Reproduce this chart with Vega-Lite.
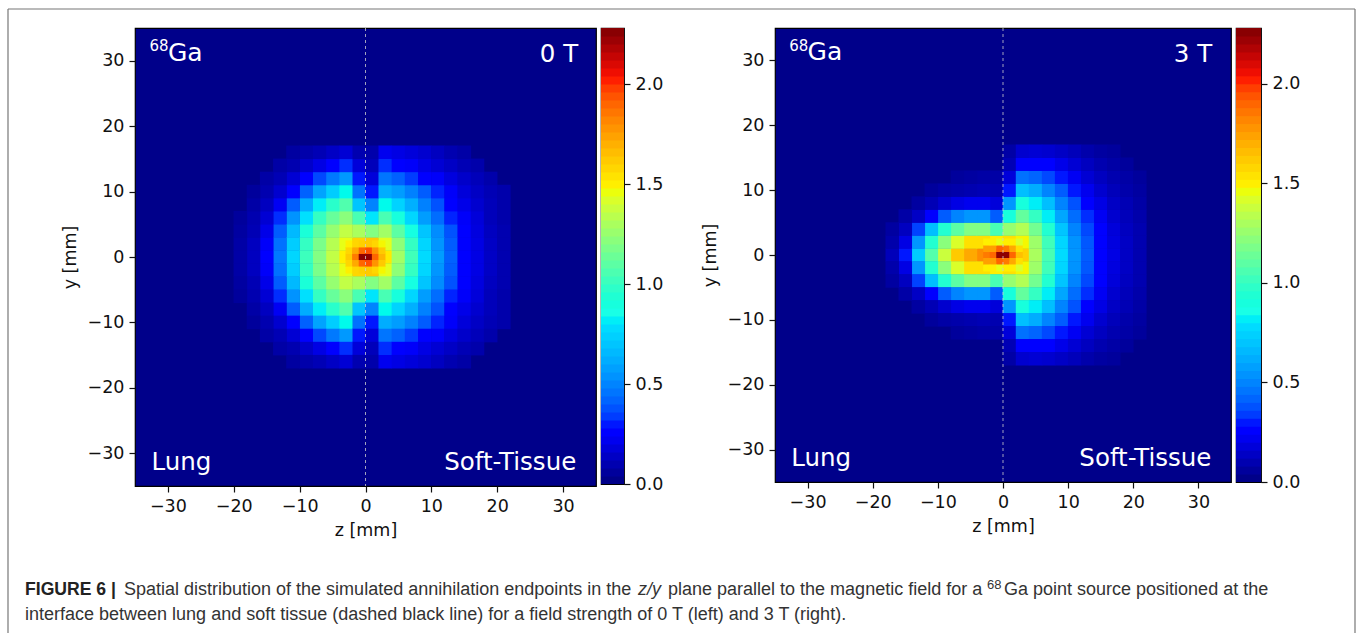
{"$schema":"https://vega.github.io/schema/vega-lite/v6.json","background":"white","padding":{"left":7,"top":8,"right":1,"bottom":0},"bounds":"flush","align":"none","columns":5,"spacing":{"row":94,"column":5},
"config":{"view":{"stroke":"black","strokeWidth":1.2,"fill":"#00008a"},"axis":{"labelFont":"DejaVu Sans","titleFont":"DejaVu Sans","labelFontSize":17.5,"titleFontSize":17.5,"labelColor":"#111","titleColor":"#111","titleFontWeight":"normal","tickColor":"#111","tickSize":6,"tickWidth":1.2,"grid":false,"domain":false,"labelPadding":5}},
"datasets":{
"bar":[{"v":0.02},{"v":0.06},{"v":0.1},{"v":0.14},{"v":0.18},{"v":0.22},{"v":0.26},{"v":0.3},{"v":0.34},{"v":0.38},{"v":0.42},{"v":0.46},{"v":0.5},{"v":0.54},{"v":0.58},{"v":0.62},{"v":0.66},{"v":0.7},{"v":0.74},{"v":0.78},{"v":0.82},{"v":0.86},{"v":0.9},{"v":0.94},{"v":0.98},{"v":1.02},{"v":1.06},{"v":1.1},{"v":1.14},{"v":1.18},{"v":1.22},{"v":1.26},{"v":1.3},{"v":1.34},{"v":1.38},{"v":1.42},{"v":1.46},{"v":1.5},{"v":1.54},{"v":1.58},{"v":1.62},{"v":1.66},{"v":1.7},{"v":1.74},{"v":1.78},{"v":1.82},{"v":1.86},{"v":1.9},{"v":1.94},{"v":1.98},{"v":2.02},{"v":2.06},{"v":2.1},{"v":2.14},{"v":2.18},{"v":2.22},{"v":2.26}],
"a":[
{"z":-1,"y":0,"v":2.0},{"z":-3,"y":0,"v":1.5},{"z":-5,"y":0,"v":1.36},{"z":-7,"y":0,"v":1.2},{"z":-9,"y":0,"v":1.02},{"z":-11,"y":0,"v":0.76},{"z":-13,"y":0,"v":0.47},{"z":-15,"y":0,"v":0.25},{"z":-17,"y":0,"v":0.13},{"z":-19,"y":0,"v":0.08},
{"z":-1,"y":2,"v":1.58},{"z":-3,"y":2,"v":1.45},{"z":-5,"y":2,"v":1.33},{"z":-7,"y":2,"v":1.18},{"z":-9,"y":2,"v":1.0},{"z":-11,"y":2,"v":0.73},{"z":-13,"y":2,"v":0.45},{"z":-15,"y":2,"v":0.24},{"z":-17,"y":2,"v":0.13},{"z":-19,"y":2,"v":0.08},
{"z":-1,"y":-2,"v":1.58},{"z":-3,"y":-2,"v":1.45},{"z":-5,"y":-2,"v":1.33},{"z":-7,"y":-2,"v":1.18},{"z":-9,"y":-2,"v":1.0},{"z":-11,"y":-2,"v":0.73},{"z":-13,"y":-2,"v":0.45},{"z":-15,"y":-2,"v":0.24},{"z":-17,"y":-2,"v":0.13},{"z":-19,"y":-2,"v":0.08},
{"z":-1,"y":4,"v":1.3},{"z":-3,"y":4,"v":1.36},{"z":-5,"y":4,"v":1.25},{"z":-7,"y":4,"v":1.1},{"z":-9,"y":4,"v":0.92},{"z":-11,"y":4,"v":0.66},{"z":-13,"y":4,"v":0.4},{"z":-15,"y":4,"v":0.21},{"z":-17,"y":4,"v":0.11},{"z":-19,"y":4,"v":0.07},
{"z":-1,"y":-4,"v":1.3},{"z":-3,"y":-4,"v":1.36},{"z":-5,"y":-4,"v":1.25},{"z":-7,"y":-4,"v":1.1},{"z":-9,"y":-4,"v":0.92},{"z":-11,"y":-4,"v":0.66},{"z":-13,"y":-4,"v":0.4},{"z":-15,"y":-4,"v":0.21},{"z":-17,"y":-4,"v":0.11},{"z":-19,"y":-4,"v":0.07},
{"z":-1,"y":6,"v":1.05},{"z":-3,"y":6,"v":1.22},{"z":-5,"y":6,"v":1.13},{"z":-7,"y":6,"v":1.0},{"z":-9,"y":6,"v":0.79},{"z":-11,"y":6,"v":0.54},{"z":-13,"y":6,"v":0.32},{"z":-15,"y":6,"v":0.17},{"z":-17,"y":6,"v":0.1},{"z":-19,"y":6,"v":0.06},
{"z":-1,"y":-6,"v":1.05},{"z":-3,"y":-6,"v":1.22},{"z":-5,"y":-6,"v":1.13},{"z":-7,"y":-6,"v":1.0},{"z":-9,"y":-6,"v":0.79},{"z":-11,"y":-6,"v":0.54},{"z":-13,"y":-6,"v":0.32},{"z":-15,"y":-6,"v":0.17},{"z":-17,"y":-6,"v":0.1},{"z":-19,"y":-6,"v":0.06},
{"z":-1,"y":8,"v":0.7},{"z":-3,"y":8,"v":1.07},{"z":-5,"y":8,"v":0.97},{"z":-7,"y":8,"v":0.82},{"z":-9,"y":8,"v":0.62},{"z":-11,"y":8,"v":0.4},{"z":-13,"y":8,"v":0.23},{"z":-15,"y":8,"v":0.13},{"z":-17,"y":8,"v":0.08},
{"z":-1,"y":-8,"v":0.7},{"z":-3,"y":-8,"v":1.07},{"z":-5,"y":-8,"v":0.97},{"z":-7,"y":-8,"v":0.82},{"z":-9,"y":-8,"v":0.62},{"z":-11,"y":-8,"v":0.4},{"z":-13,"y":-8,"v":0.23},{"z":-15,"y":-8,"v":0.13},{"z":-17,"y":-8,"v":0.08},
{"z":-1,"y":10,"v":0.45},{"z":-3,"y":10,"v":0.85},{"z":-5,"y":10,"v":0.73},{"z":-7,"y":10,"v":0.59},{"z":-9,"y":10,"v":0.41},{"z":-11,"y":10,"v":0.26},{"z":-13,"y":10,"v":0.16},{"z":-15,"y":10,"v":0.1},{"z":-17,"y":10,"v":0.06},
{"z":-1,"y":-10,"v":0.45},{"z":-3,"y":-10,"v":0.85},{"z":-5,"y":-10,"v":0.73},{"z":-7,"y":-10,"v":0.59},{"z":-9,"y":-10,"v":0.41},{"z":-11,"y":-10,"v":0.26},{"z":-13,"y":-10,"v":0.16},{"z":-15,"y":-10,"v":0.1},{"z":-17,"y":-10,"v":0.06},
{"z":-1,"y":12,"v":0.3},{"z":-3,"y":12,"v":0.56},{"z":-5,"y":12,"v":0.47},{"z":-7,"y":12,"v":0.36},{"z":-9,"y":12,"v":0.25},{"z":-11,"y":12,"v":0.17},{"z":-13,"y":12,"v":0.11},{"z":-15,"y":12,"v":0.08},
{"z":-1,"y":-12,"v":0.3},{"z":-3,"y":-12,"v":0.56},{"z":-5,"y":-12,"v":0.47},{"z":-7,"y":-12,"v":0.36},{"z":-9,"y":-12,"v":0.25},{"z":-11,"y":-12,"v":0.17},{"z":-13,"y":-12,"v":0.11},{"z":-15,"y":-12,"v":0.08},
{"z":-1,"y":14,"v":0.18},{"z":-3,"y":14,"v":0.32},{"z":-5,"y":14,"v":0.26},{"z":-7,"y":14,"v":0.2},{"z":-9,"y":14,"v":0.15},{"z":-11,"y":14,"v":0.1},{"z":-13,"y":14,"v":0.08},
{"z":-1,"y":-14,"v":0.18},{"z":-3,"y":-14,"v":0.32},{"z":-5,"y":-14,"v":0.26},{"z":-7,"y":-14,"v":0.2},{"z":-9,"y":-14,"v":0.15},{"z":-11,"y":-14,"v":0.1},{"z":-13,"y":-14,"v":0.08},
{"z":-1,"y":16,"v":0.1},{"z":-3,"y":16,"v":0.17},{"z":-5,"y":16,"v":0.14},{"z":-7,"y":16,"v":0.11},{"z":-9,"y":16,"v":0.09},{"z":-11,"y":16,"v":0.07},
{"z":-1,"y":-16,"v":0.1},{"z":-3,"y":-16,"v":0.17},{"z":-5,"y":-16,"v":0.14},{"z":-7,"y":-16,"v":0.11},{"z":-9,"y":-16,"v":0.09},{"z":-11,"y":-16,"v":0.07},
{"z":1,"y":0,"v":2.0},{"z":3,"y":0,"v":1.52},{"z":5,"y":0,"v":1.28},{"z":7,"y":0,"v":1.03},{"z":9,"y":0,"v":0.78},{"z":11,"y":0,"v":0.57},{"z":13,"y":0,"v":0.41},{"z":15,"y":0,"v":0.28},{"z":17,"y":0,"v":0.2},{"z":19,"y":0,"v":0.14},{"z":21,"y":0,"v":0.1},
{"z":1,"y":2,"v":1.62},{"z":3,"y":2,"v":1.44},{"z":5,"y":2,"v":1.23},{"z":7,"y":2,"v":1.0},{"z":9,"y":2,"v":0.76},{"z":11,"y":2,"v":0.55},{"z":13,"y":2,"v":0.4},{"z":15,"y":2,"v":0.28},{"z":17,"y":2,"v":0.2},{"z":19,"y":2,"v":0.14},{"z":21,"y":2,"v":0.1},
{"z":1,"y":-2,"v":1.62},{"z":3,"y":-2,"v":1.44},{"z":5,"y":-2,"v":1.23},{"z":7,"y":-2,"v":1.0},{"z":9,"y":-2,"v":0.76},{"z":11,"y":-2,"v":0.55},{"z":13,"y":-2,"v":0.4},{"z":15,"y":-2,"v":0.28},{"z":17,"y":-2,"v":0.2},{"z":19,"y":-2,"v":0.14},{"z":21,"y":-2,"v":0.1},
{"z":1,"y":4,"v":1.2},{"z":3,"y":4,"v":1.28},{"z":5,"y":4,"v":1.1},{"z":7,"y":4,"v":0.88},{"z":9,"y":4,"v":0.7},{"z":11,"y":4,"v":0.52},{"z":13,"y":4,"v":0.38},{"z":15,"y":4,"v":0.26},{"z":17,"y":4,"v":0.19},{"z":19,"y":4,"v":0.13},{"z":21,"y":4,"v":0.1},
{"z":1,"y":-4,"v":1.2},{"z":3,"y":-4,"v":1.28},{"z":5,"y":-4,"v":1.1},{"z":7,"y":-4,"v":0.88},{"z":9,"y":-4,"v":0.7},{"z":11,"y":-4,"v":0.52},{"z":13,"y":-4,"v":0.38},{"z":15,"y":-4,"v":0.26},{"z":17,"y":-4,"v":0.19},{"z":19,"y":-4,"v":0.13},{"z":21,"y":-4,"v":0.1},
{"z":1,"y":6,"v":0.8},{"z":3,"y":6,"v":1.05},{"z":5,"y":6,"v":0.9},{"z":7,"y":6,"v":0.76},{"z":9,"y":6,"v":0.57},{"z":11,"y":6,"v":0.44},{"z":13,"y":6,"v":0.31},{"z":15,"y":6,"v":0.24},{"z":17,"y":6,"v":0.18},{"z":19,"y":6,"v":0.12},{"z":21,"y":6,"v":0.09},
{"z":1,"y":-6,"v":0.8},{"z":3,"y":-6,"v":1.05},{"z":5,"y":-6,"v":0.9},{"z":7,"y":-6,"v":0.76},{"z":9,"y":-6,"v":0.57},{"z":11,"y":-6,"v":0.44},{"z":13,"y":-6,"v":0.31},{"z":15,"y":-6,"v":0.24},{"z":17,"y":-6,"v":0.18},{"z":19,"y":-6,"v":0.12},{"z":21,"y":-6,"v":0.09},
{"z":1,"y":8,"v":0.5},{"z":3,"y":8,"v":0.85},{"z":5,"y":8,"v":0.75},{"z":7,"y":8,"v":0.63},{"z":9,"y":8,"v":0.49},{"z":11,"y":8,"v":0.38},{"z":13,"y":8,"v":0.29},{"z":15,"y":8,"v":0.21},{"z":17,"y":8,"v":0.16},{"z":19,"y":8,"v":0.12},{"z":21,"y":8,"v":0.09},
{"z":1,"y":-8,"v":0.5},{"z":3,"y":-8,"v":0.85},{"z":5,"y":-8,"v":0.75},{"z":7,"y":-8,"v":0.63},{"z":9,"y":-8,"v":0.49},{"z":11,"y":-8,"v":0.38},{"z":13,"y":-8,"v":0.29},{"z":15,"y":-8,"v":0.21},{"z":17,"y":-8,"v":0.16},{"z":19,"y":-8,"v":0.12},{"z":21,"y":-8,"v":0.09},
{"z":1,"y":10,"v":0.3},{"z":3,"y":10,"v":0.62},{"z":5,"y":10,"v":0.57},{"z":7,"y":10,"v":0.49},{"z":9,"y":10,"v":0.4},{"z":11,"y":10,"v":0.31},{"z":13,"y":10,"v":0.24},{"z":15,"y":10,"v":0.18},{"z":17,"y":10,"v":0.14},{"z":19,"y":10,"v":0.11},{"z":21,"y":10,"v":0.09},
{"z":1,"y":-10,"v":0.3},{"z":3,"y":-10,"v":0.62},{"z":5,"y":-10,"v":0.57},{"z":7,"y":-10,"v":0.49},{"z":9,"y":-10,"v":0.4},{"z":11,"y":-10,"v":0.31},{"z":13,"y":-10,"v":0.24},{"z":15,"y":-10,"v":0.18},{"z":17,"y":-10,"v":0.14},{"z":19,"y":-10,"v":0.11},{"z":21,"y":-10,"v":0.09},
{"z":1,"y":12,"v":0.18},{"z":3,"y":12,"v":0.46},{"z":5,"y":12,"v":0.41},{"z":7,"y":12,"v":0.34},{"z":9,"y":12,"v":0.28},{"z":11,"y":12,"v":0.24},{"z":13,"y":12,"v":0.19},{"z":15,"y":12,"v":0.15},{"z":17,"y":12,"v":0.12},{"z":19,"y":12,"v":0.09},
{"z":1,"y":-12,"v":0.18},{"z":3,"y":-12,"v":0.46},{"z":5,"y":-12,"v":0.41},{"z":7,"y":-12,"v":0.34},{"z":9,"y":-12,"v":0.28},{"z":11,"y":-12,"v":0.24},{"z":13,"y":-12,"v":0.19},{"z":15,"y":-12,"v":0.15},{"z":17,"y":-12,"v":0.12},{"z":19,"y":-12,"v":0.09},
{"z":1,"y":14,"v":0.12},{"z":3,"y":14,"v":0.32},{"z":5,"y":14,"v":0.28},{"z":7,"y":14,"v":0.24},{"z":9,"y":14,"v":0.2},{"z":11,"y":14,"v":0.17},{"z":13,"y":14,"v":0.14},{"z":15,"y":14,"v":0.11},{"z":17,"y":14,"v":0.09},
{"z":1,"y":-14,"v":0.12},{"z":3,"y":-14,"v":0.32},{"z":5,"y":-14,"v":0.28},{"z":7,"y":-14,"v":0.24},{"z":9,"y":-14,"v":0.2},{"z":11,"y":-14,"v":0.17},{"z":13,"y":-14,"v":0.14},{"z":15,"y":-14,"v":0.11},{"z":17,"y":-14,"v":0.09},
{"z":1,"y":16,"v":0.09},{"z":3,"y":16,"v":0.22},{"z":5,"y":16,"v":0.2},{"z":7,"y":16,"v":0.18},{"z":9,"y":16,"v":0.16},{"z":11,"y":16,"v":0.13},{"z":13,"y":16,"v":0.1},{"z":15,"y":16,"v":0.08},
{"z":1,"y":-16,"v":0.09},{"z":3,"y":-16,"v":0.22},{"z":5,"y":-16,"v":0.2},{"z":7,"y":-16,"v":0.18},{"z":9,"y":-16,"v":0.16},{"z":11,"y":-16,"v":0.13},{"z":13,"y":-16,"v":0.1},{"z":15,"y":-16,"v":0.08}],
"a2":[
{"z":-2.5,"y":0,"v":1.62},{"z":-1.5,"y":0,"v":1.85},{"z":-0.5,"y":0,"v":2.25},{"z":0.5,"y":0,"v":2.25},{"z":1.5,"y":0,"v":1.9},{"z":2.5,"y":0,"v":1.68},
{"z":-2.5,"y":1,"v":1.58},{"z":-1.5,"y":1,"v":1.72},{"z":-0.5,"y":1,"v":1.9},{"z":0.5,"y":1,"v":1.95},{"z":1.5,"y":1,"v":1.78},{"z":2.5,"y":1,"v":1.62},
{"z":-2.5,"y":-1,"v":1.58},{"z":-1.5,"y":-1,"v":1.72},{"z":-0.5,"y":-1,"v":1.9},{"z":0.5,"y":-1,"v":1.95},{"z":1.5,"y":-1,"v":1.78},{"z":2.5,"y":-1,"v":1.62},
{"z":-2.5,"y":2,"v":1.5},{"z":-1.5,"y":2,"v":1.58},{"z":-0.5,"y":2,"v":1.6},{"z":0.5,"y":2,"v":1.62},{"z":1.5,"y":2,"v":1.58},{"z":2.5,"y":2,"v":1.48},
{"z":-2.5,"y":-2,"v":1.5},{"z":-1.5,"y":-2,"v":1.58},{"z":-0.5,"y":-2,"v":1.6},{"z":0.5,"y":-2,"v":1.62},{"z":1.5,"y":-2,"v":1.58},{"z":2.5,"y":-2,"v":1.48}],
"b":[
{"z":-1,"y":0,"v":1.95},{"z":-3,"y":0,"v":1.8},{"z":-5,"y":0,"v":1.72},{"z":-7,"y":0,"v":1.62},{"z":-9,"y":0,"v":1.38},{"z":-11,"y":0,"v":1.08},{"z":-13,"y":0,"v":0.72},{"z":-15,"y":0,"v":0.3},{"z":-17,"y":0,"v":0.12},
{"z":-1,"y":2,"v":1.5},{"z":-3,"y":2,"v":1.55},{"z":-5,"y":2,"v":1.55},{"z":-7,"y":2,"v":1.42},{"z":-9,"y":2,"v":1.22},{"z":-11,"y":2,"v":0.95},{"z":-13,"y":2,"v":0.55},{"z":-15,"y":2,"v":0.2},{"z":-17,"y":2,"v":0.09},
{"z":-1,"y":-2,"v":1.5},{"z":-3,"y":-2,"v":1.55},{"z":-5,"y":-2,"v":1.55},{"z":-7,"y":-2,"v":1.42},{"z":-9,"y":-2,"v":1.22},{"z":-11,"y":-2,"v":0.95},{"z":-13,"y":-2,"v":0.55},{"z":-15,"y":-2,"v":0.2},{"z":-17,"y":-2,"v":0.09},
{"z":-1,"y":4,"v":1.05},{"z":-3,"y":4,"v":1.2},{"z":-5,"y":4,"v":1.2},{"z":-7,"y":4,"v":1.1},{"z":-9,"y":4,"v":0.95},{"z":-11,"y":4,"v":0.68},{"z":-13,"y":4,"v":0.35},{"z":-15,"y":4,"v":0.13},{"z":-17,"y":4,"v":0.07},
{"z":-1,"y":-4,"v":1.05},{"z":-3,"y":-4,"v":1.2},{"z":-5,"y":-4,"v":1.2},{"z":-7,"y":-4,"v":1.1},{"z":-9,"y":-4,"v":0.95},{"z":-11,"y":-4,"v":0.68},{"z":-13,"y":-4,"v":0.35},{"z":-15,"y":-4,"v":0.13},{"z":-17,"y":-4,"v":0.07},
{"z":-1,"y":6,"v":0.4},{"z":-3,"y":6,"v":0.55},{"z":-5,"y":6,"v":0.55},{"z":-7,"y":6,"v":0.5},{"z":-9,"y":6,"v":0.4},{"z":-11,"y":6,"v":0.27},{"z":-13,"y":6,"v":0.14},{"z":-15,"y":6,"v":0.08},
{"z":-1,"y":-6,"v":0.4},{"z":-3,"y":-6,"v":0.55},{"z":-5,"y":-6,"v":0.55},{"z":-7,"y":-6,"v":0.5},{"z":-9,"y":-6,"v":0.4},{"z":-11,"y":-6,"v":0.27},{"z":-13,"y":-6,"v":0.14},{"z":-15,"y":-6,"v":0.08},
{"z":-1,"y":8,"v":0.18},{"z":-3,"y":8,"v":0.22},{"z":-5,"y":8,"v":0.22},{"z":-7,"y":8,"v":0.2},{"z":-9,"y":8,"v":0.16},{"z":-11,"y":8,"v":0.11},{"z":-13,"y":8,"v":0.07},
{"z":-1,"y":-8,"v":0.18},{"z":-3,"y":-8,"v":0.22},{"z":-5,"y":-8,"v":0.22},{"z":-7,"y":-8,"v":0.2},{"z":-9,"y":-8,"v":0.16},{"z":-11,"y":-8,"v":0.11},{"z":-13,"y":-8,"v":0.07},
{"z":-1,"y":10,"v":0.1},{"z":-3,"y":10,"v":0.11},{"z":-5,"y":10,"v":0.1},{"z":-7,"y":10,"v":0.09},{"z":-9,"y":10,"v":0.08},{"z":-11,"y":10,"v":0.06},
{"z":-1,"y":-10,"v":0.1},{"z":-3,"y":-10,"v":0.11},{"z":-5,"y":-10,"v":0.1},{"z":-7,"y":-10,"v":0.09},{"z":-9,"y":-10,"v":0.08},{"z":-11,"y":-10,"v":0.06},
{"z":-1,"y":12,"v":0.08},{"z":-3,"y":12,"v":0.08},{"z":-5,"y":12,"v":0.07},{"z":-7,"y":12,"v":0.06},
{"z":-1,"y":-12,"v":0.08},{"z":-3,"y":-12,"v":0.08},{"z":-5,"y":-12,"v":0.07},{"z":-7,"y":-12,"v":0.06},
{"z":1,"y":0,"v":2.0},{"z":3,"y":0,"v":1.6},{"z":5,"y":0,"v":1.3},{"z":7,"y":0,"v":1.05},{"z":9,"y":0,"v":0.78},{"z":11,"y":0,"v":0.55},{"z":13,"y":0,"v":0.4},{"z":15,"y":0,"v":0.28},{"z":17,"y":0,"v":0.2},{"z":19,"y":0,"v":0.14},{"z":21,"y":0,"v":0.1},
{"z":1,"y":2,"v":1.55},{"z":3,"y":2,"v":1.48},{"z":5,"y":2,"v":1.27},{"z":7,"y":2,"v":1.03},{"z":9,"y":2,"v":0.76},{"z":11,"y":2,"v":0.54},{"z":13,"y":2,"v":0.39},{"z":15,"y":2,"v":0.27},{"z":17,"y":2,"v":0.19},{"z":19,"y":2,"v":0.14},{"z":21,"y":2,"v":0.1},
{"z":1,"y":-2,"v":1.55},{"z":3,"y":-2,"v":1.48},{"z":5,"y":-2,"v":1.27},{"z":7,"y":-2,"v":1.03},{"z":9,"y":-2,"v":0.76},{"z":11,"y":-2,"v":0.54},{"z":13,"y":-2,"v":0.39},{"z":15,"y":-2,"v":0.27},{"z":17,"y":-2,"v":0.19},{"z":19,"y":-2,"v":0.14},{"z":21,"y":-2,"v":0.1},
{"z":1,"y":4,"v":1.25},{"z":3,"y":4,"v":1.32},{"z":5,"y":4,"v":1.16},{"z":7,"y":4,"v":0.95},{"z":9,"y":4,"v":0.7},{"z":11,"y":4,"v":0.5},{"z":13,"y":4,"v":0.36},{"z":15,"y":4,"v":0.25},{"z":17,"y":4,"v":0.18},{"z":19,"y":4,"v":0.13},{"z":21,"y":4,"v":0.1},
{"z":1,"y":-4,"v":1.25},{"z":3,"y":-4,"v":1.32},{"z":5,"y":-4,"v":1.16},{"z":7,"y":-4,"v":0.95},{"z":9,"y":-4,"v":0.7},{"z":11,"y":-4,"v":0.5},{"z":13,"y":-4,"v":0.36},{"z":15,"y":-4,"v":0.25},{"z":17,"y":-4,"v":0.18},{"z":19,"y":-4,"v":0.13},{"z":21,"y":-4,"v":0.1},
{"z":1,"y":6,"v":0.9},{"z":3,"y":6,"v":1.12},{"z":5,"y":6,"v":1.0},{"z":7,"y":6,"v":0.82},{"z":9,"y":6,"v":0.6},{"z":11,"y":6,"v":0.44},{"z":13,"y":6,"v":0.32},{"z":15,"y":6,"v":0.23},{"z":17,"y":6,"v":0.16},{"z":19,"y":6,"v":0.12},{"z":21,"y":6,"v":0.09},
{"z":1,"y":-6,"v":0.9},{"z":3,"y":-6,"v":1.12},{"z":5,"y":-6,"v":1.0},{"z":7,"y":-6,"v":0.82},{"z":9,"y":-6,"v":0.6},{"z":11,"y":-6,"v":0.44},{"z":13,"y":-6,"v":0.32},{"z":15,"y":-6,"v":0.23},{"z":17,"y":-6,"v":0.16},{"z":19,"y":-6,"v":0.12},{"z":21,"y":-6,"v":0.09},
{"z":1,"y":8,"v":0.55},{"z":3,"y":8,"v":0.9},{"z":5,"y":8,"v":0.82},{"z":7,"y":8,"v":0.68},{"z":9,"y":8,"v":0.5},{"z":11,"y":8,"v":0.38},{"z":13,"y":8,"v":0.27},{"z":15,"y":8,"v":0.2},{"z":17,"y":8,"v":0.14},{"z":19,"y":8,"v":0.11},{"z":21,"y":8,"v":0.08},
{"z":1,"y":-8,"v":0.55},{"z":3,"y":-8,"v":0.9},{"z":5,"y":-8,"v":0.82},{"z":7,"y":-8,"v":0.68},{"z":9,"y":-8,"v":0.5},{"z":11,"y":-8,"v":0.38},{"z":13,"y":-8,"v":0.27},{"z":15,"y":-8,"v":0.2},{"z":17,"y":-8,"v":0.14},{"z":19,"y":-8,"v":0.11},{"z":21,"y":-8,"v":0.08},
{"z":1,"y":10,"v":0.3},{"z":3,"y":10,"v":0.68},{"z":5,"y":10,"v":0.62},{"z":7,"y":10,"v":0.5},{"z":9,"y":10,"v":0.4},{"z":11,"y":10,"v":0.3},{"z":13,"y":10,"v":0.22},{"z":15,"y":10,"v":0.16},{"z":17,"y":10,"v":0.12},{"z":19,"y":10,"v":0.09},{"z":21,"y":10,"v":0.07},
{"z":1,"y":-10,"v":0.3},{"z":3,"y":-10,"v":0.68},{"z":5,"y":-10,"v":0.62},{"z":7,"y":-10,"v":0.5},{"z":9,"y":-10,"v":0.4},{"z":11,"y":-10,"v":0.3},{"z":13,"y":-10,"v":0.22},{"z":15,"y":-10,"v":0.16},{"z":17,"y":-10,"v":0.12},{"z":19,"y":-10,"v":0.09},{"z":21,"y":-10,"v":0.07},
{"z":1,"y":12,"v":0.18},{"z":3,"y":12,"v":0.45},{"z":5,"y":12,"v":0.42},{"z":7,"y":12,"v":0.36},{"z":9,"y":12,"v":0.3},{"z":11,"y":12,"v":0.23},{"z":13,"y":12,"v":0.17},{"z":15,"y":12,"v":0.13},{"z":17,"y":12,"v":0.1},{"z":19,"y":12,"v":0.08},{"z":21,"y":12,"v":0.06},
{"z":1,"y":-12,"v":0.18},{"z":3,"y":-12,"v":0.45},{"z":5,"y":-12,"v":0.42},{"z":7,"y":-12,"v":0.36},{"z":9,"y":-12,"v":0.3},{"z":11,"y":-12,"v":0.23},{"z":13,"y":-12,"v":0.17},{"z":15,"y":-12,"v":0.13},{"z":17,"y":-12,"v":0.1},{"z":19,"y":-12,"v":0.08},{"z":21,"y":-12,"v":0.06},
{"z":1,"y":14,"v":0.11},{"z":3,"y":14,"v":0.28},{"z":5,"y":14,"v":0.28},{"z":7,"y":14,"v":0.25},{"z":9,"y":14,"v":0.21},{"z":11,"y":14,"v":0.17},{"z":13,"y":14,"v":0.13},{"z":15,"y":14,"v":0.1},{"z":17,"y":14,"v":0.08},{"z":19,"y":14,"v":0.06},
{"z":1,"y":-14,"v":0.11},{"z":3,"y":-14,"v":0.28},{"z":5,"y":-14,"v":0.28},{"z":7,"y":-14,"v":0.25},{"z":9,"y":-14,"v":0.21},{"z":11,"y":-14,"v":0.17},{"z":13,"y":-14,"v":0.13},{"z":15,"y":-14,"v":0.1},{"z":17,"y":-14,"v":0.08},{"z":19,"y":-14,"v":0.06},
{"z":1,"y":16,"v":0.08},{"z":3,"y":16,"v":0.16},{"z":5,"y":16,"v":0.17},{"z":7,"y":16,"v":0.16},{"z":9,"y":16,"v":0.14},{"z":11,"y":16,"v":0.12},{"z":13,"y":16,"v":0.09},{"z":15,"y":16,"v":0.07},{"z":17,"y":16,"v":0.06},
{"z":1,"y":-16,"v":0.08},{"z":3,"y":-16,"v":0.16},{"z":5,"y":-16,"v":0.17},{"z":7,"y":-16,"v":0.16},{"z":9,"y":-16,"v":0.14},{"z":11,"y":-16,"v":0.12},{"z":13,"y":-16,"v":0.09},{"z":15,"y":-16,"v":0.07},{"z":17,"y":-16,"v":0.06}],
"b2":[
{"z":-2.5,"y":0,"v":1.85},{"z":-1.5,"y":0,"v":1.9},{"z":-0.5,"y":0,"v":2.25},{"z":0.5,"y":0,"v":2.25},{"z":1.5,"y":0,"v":1.9},{"z":2.5,"y":0,"v":1.65},
{"z":-2.5,"y":1,"v":1.75},{"z":-1.5,"y":1,"v":1.75},{"z":-0.5,"y":1,"v":1.9},{"z":0.5,"y":1,"v":1.85},{"z":1.5,"y":1,"v":1.72},{"z":2.5,"y":1,"v":1.55},
{"z":-2.5,"y":-1,"v":1.75},{"z":-1.5,"y":-1,"v":1.75},{"z":-0.5,"y":-1,"v":1.9},{"z":0.5,"y":-1,"v":1.85},{"z":1.5,"y":-1,"v":1.72},{"z":2.5,"y":-1,"v":1.55},
{"z":-2.5,"y":2,"v":1.5},{"z":-1.5,"y":2,"v":1.5},{"z":-0.5,"y":2,"v":1.45},{"z":0.5,"y":2,"v":1.5},{"z":1.5,"y":2,"v":1.5},{"z":2.5,"y":2,"v":1.42},
{"z":-2.5,"y":-2,"v":1.5},{"z":-1.5,"y":-2,"v":1.5},{"z":-0.5,"y":-2,"v":1.45},{"z":0.5,"y":-2,"v":1.5},{"z":1.5,"y":-2,"v":1.5},{"z":2.5,"y":-2,"v":1.42}],
"lung":[{"z":-32.5,"y":-32.5,"t":"Lung"}],"soft":[{"z":32,"y":-32.5,"t":"Soft-Tissue"}],
"iso":[{"z":-30,"y":30,"t":"Ga"}],"mass":[{"z":-32.8,"y":31.5,"t":"68"}]
},
"concat":[
{"width":461,"height":458,"layer":[
{"data":{"name":"a"},"mark":{"type":"rect","width":13.6,"height":13.6},"encoding":{"x":{"field":"z","type":"quantitative","scale":{"domain":[-35,35],"nice":false},"axis":{"values":[-30,-20,-10,0,10,20,30],"title":"z [mm]","titlePadding":7}},"y":{"field":"y","type":"quantitative","scale":{"domain":[-35,35],"nice":false},"axis":{"values":[-30,-20,-10,0,10,20,30],"title":"y [mm]","titlePadding":8}},"color":{"field":"v","type":"quantitative","legend":null,"scale":{"domain":[0,0.25,0.29,0.78,0.86,1.46,1.5,2.03,2.28],"range":["#00007f","#0000ff","#0000ff","#00dbff","#19ffe6","#ebff0c","#ffef00","#ff1200","#7f0000"]}}}},
{"data":{"name":"a2"},"mark":{"type":"rect","width":7,"height":7},"encoding":{"x":{"field":"z","type":"quantitative"},"y":{"field":"y","type":"quantitative"},"color":{"field":"v","type":"quantitative","legend":null,"scale":{"domain":[0,0.25,0.29,0.78,0.86,1.46,1.5,2.03,2.28],"range":["#00007f","#0000ff","#0000ff","#00dbff","#19ffe6","#ebff0c","#ffef00","#ff1200","#7f0000"]}}}},
{"data":{"values":[{"z":0}]},"mark":{"type":"rule","color":"#cccccc","strokeDash":[3,3],"strokeWidth":0.8},"encoding":{"x":{"field":"z","type":"quantitative"}}},
{"data":{"name":"lung"},"mark":{"type":"text","color":"white","font":"DejaVu Sans","fontSize":24.5,"baseline":"alphabetic","align":"left"},"encoding":{"x":{"field":"z","type":"quantitative"},"y":{"field":"y","type":"quantitative"},"text":{"field":"t"}}},
{"data":{"name":"soft"},"mark":{"type":"text","color":"white","font":"DejaVu Sans","fontSize":24.5,"baseline":"alphabetic","align":"right"},"encoding":{"x":{"field":"z","type":"quantitative"},"y":{"field":"y","type":"quantitative"},"text":{"field":"t"}}},
{"data":{"name":"iso"},"mark":{"type":"text","color":"white","font":"DejaVu Sans","fontSize":25,"baseline":"alphabetic","align":"left"},"encoding":{"x":{"field":"z","type":"quantitative"},"y":{"field":"y","type":"quantitative"},"text":{"field":"t"}}},
{"data":{"name":"mass"},"mark":{"type":"text","color":"white","font":"DejaVu Sans","fontSize":15,"baseline":"alphabetic","align":"left"},"encoding":{"x":{"field":"z","type":"quantitative"},"y":{"field":"y","type":"quantitative"},"text":{"field":"t"}}},
{"data":{"values":[{"z":32.3,"y":29.8,"t":"0 T"}]},"mark":{"type":"text","color":"white","font":"DejaVu Sans","fontSize":24.5,"baseline":"alphabetic","align":"right"},"encoding":{"x":{"field":"z","type":"quantitative"},"y":{"field":"y","type":"quantitative"},"text":{"field":"t"}}}
]},
{"width":23,"height":456,"data":{"name":"bar"},"mark":{"type":"rect","width":26,"height":9,"clip":true},"encoding":{"x":{"datum":0,"type":"quantitative","scale":{"domain":[-1,1]},"axis":null},"y":{"field":"v","type":"quantitative","scale":{"domain":[0,2.28],"nice":false},"axis":{"orient":"right","values":[0,0.5,1,1.5,2],"format":".1f","title":null}},"color":{"field":"v","type":"quantitative","legend":null,"scale":{"domain":[0,0.25,0.29,0.78,0.86,1.46,1.5,2.03,2.28],"range":["#00007f","#0000ff","#0000ff","#00dbff","#19ffe6","#ebff0c","#ffef00","#ff1200","#7f0000"]}}}},
{"width":141,"height":10,"view":{"stroke":null,"fill":null},"data":{"values":[{"k":0}]},"mark":{"type":"point","opacity":0},"encoding":{}},
{"width":456,"height":454,"layer":[
{"data":{"name":"b"},"mark":{"type":"rect","width":13.5,"height":13.5},"encoding":{"x":{"field":"z","type":"quantitative","scale":{"domain":[-35,35],"nice":false},"axis":{"values":[-30,-20,-10,0,10,20,30],"title":"z [mm]","titlePadding":7}},"y":{"field":"y","type":"quantitative","scale":{"domain":[-35,35],"nice":false},"axis":{"values":[-30,-20,-10,0,10,20,30],"title":"y [mm]","titlePadding":8}},"color":{"field":"v","type":"quantitative","legend":null,"scale":{"domain":[0,0.25,0.29,0.78,0.86,1.46,1.5,2.03,2.28],"range":["#00007f","#0000ff","#0000ff","#00dbff","#19ffe6","#ebff0c","#ffef00","#ff1200","#7f0000"]}}}},
{"data":{"name":"b2"},"mark":{"type":"rect","width":7,"height":7},"encoding":{"x":{"field":"z","type":"quantitative"},"y":{"field":"y","type":"quantitative"},"color":{"field":"v","type":"quantitative","legend":null,"scale":{"domain":[0,0.25,0.29,0.78,0.86,1.46,1.5,2.03,2.28],"range":["#00007f","#0000ff","#0000ff","#00dbff","#19ffe6","#ebff0c","#ffef00","#ff1200","#7f0000"]}}}},
{"data":{"values":[{"z":0}]},"mark":{"type":"rule","color":"#cccccc","strokeDash":[3,3],"strokeWidth":0.8},"encoding":{"x":{"field":"z","type":"quantitative"}}},
{"data":{"name":"lung"},"mark":{"type":"text","color":"white","font":"DejaVu Sans","fontSize":24.5,"baseline":"alphabetic","align":"left"},"encoding":{"x":{"field":"z","type":"quantitative"},"y":{"field":"y","type":"quantitative"},"text":{"field":"t"}}},
{"data":{"name":"soft"},"mark":{"type":"text","color":"white","font":"DejaVu Sans","fontSize":24.5,"baseline":"alphabetic","align":"right"},"encoding":{"x":{"field":"z","type":"quantitative"},"y":{"field":"y","type":"quantitative"},"text":{"field":"t"}}},
{"data":{"name":"iso"},"mark":{"type":"text","color":"white","font":"DejaVu Sans","fontSize":25,"baseline":"alphabetic","align":"left"},"encoding":{"x":{"field":"z","type":"quantitative"},"y":{"field":"y","type":"quantitative"},"text":{"field":"t"}}},
{"data":{"name":"mass"},"mark":{"type":"text","color":"white","font":"DejaVu Sans","fontSize":15,"baseline":"alphabetic","align":"left"},"encoding":{"x":{"field":"z","type":"quantitative"},"y":{"field":"y","type":"quantitative"},"text":{"field":"t"}}},
{"data":{"values":[{"z":32.1,"y":29.8,"t":"3 T"}]},"mark":{"type":"text","color":"white","font":"DejaVu Sans","fontSize":24.5,"baseline":"alphabetic","align":"right"},"encoding":{"x":{"field":"z","type":"quantitative"},"y":{"field":"y","type":"quantitative"},"text":{"field":"t"}}}
]},
{"width":25,"height":454,"data":{"name":"bar"},"mark":{"type":"rect","width":28,"height":9,"clip":true},"encoding":{"x":{"datum":0,"type":"quantitative","scale":{"domain":[-1,1]},"axis":null},"y":{"field":"v","type":"quantitative","scale":{"domain":[0,2.28],"nice":false},"axis":{"orient":"right","values":[0,0.5,1,1.5,2],"format":".1f","title":null}},"color":{"field":"v","type":"quantitative","legend":null,"scale":{"domain":[0,0.25,0.29,0.78,0.86,1.46,1.5,2.03,2.28],"range":["#00007f","#0000ff","#0000ff","#00dbff","#19ffe6","#ebff0c","#ffef00","#ff1200","#7f0000"]}}}},
{"width":461,"height":53,"view":{"stroke":null,"fill":null},"layer":[
{"data":{"values":[{"a":8,"b":9,"c":1355,"d":9},{"a":8,"b":9,"c":8,"d":633},{"a":1355,"b":9,"c":1355,"d":633}]},"mark":{"type":"rule","color":"#777777","strokeWidth":1.2,"clip":false},"encoding":{"x":{"field":"a","type":"quantitative","axis":null,"scale":{"domain":[135,596],"nice":false}},"y":{"field":"b","type":"quantitative","axis":null,"scale":{"domain":[580,633],"reverse":true,"nice":false,"zero":false}},"x2":{"field":"c"},"y2":{"field":"d"}}},
{"data":{"values":[{"a":25,"b":595,"t":"FIGURE 6 |"}]},"mark":{"type":"text","font":"Liberation Sans","fontSize":17.6,"fontWeight":"bold","align":"left","baseline":"alphabetic","color":"#222"},"encoding":{"x":{"field":"a","type":"quantitative"},"y":{"field":"b","type":"quantitative"},"text":{"field":"t"}}},
{"data":{"values":[{"a":124,"b":595,"t":"Spatial distribution of the simulated annihilation endpoints in the"},{"a":668,"b":595,"t":"plane parallel to the magnetic field for a"},{"a":1004,"b":595,"t":"Ga point source positioned at the"},{"a":25,"b":620,"t":"interface between lung and soft tissue (dashed black line) for a field strength of 0 T (left) and 3 T (right)."}]},"mark":{"type":"text","font":"Liberation Sans","fontSize":18,"align":"left","baseline":"alphabetic","color":"#333"},"encoding":{"x":{"field":"a","type":"quantitative"},"y":{"field":"b","type":"quantitative"},"text":{"field":"t"}}},
{"data":{"values":[{"a":638,"b":595,"t":"z/y"}]},"mark":{"type":"text","font":"Liberation Sans","fontSize":18,"fontStyle":"italic","align":"left","baseline":"alphabetic","color":"#333"},"encoding":{"x":{"field":"a","type":"quantitative"},"y":{"field":"b","type":"quantitative"},"text":{"field":"t"}}},
{"data":{"values":[{"a":987,"b":589,"t":"68"}]},"mark":{"type":"text","font":"Liberation Sans","fontSize":13,"align":"left","baseline":"alphabetic","color":"#333"},"encoding":{"x":{"field":"a","type":"quantitative"},"y":{"field":"b","type":"quantitative"},"text":{"field":"t"}}}
]}
]}
